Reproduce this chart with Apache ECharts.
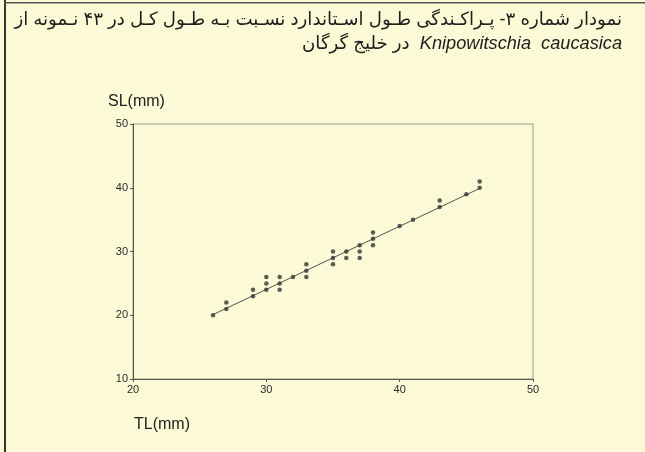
<!DOCTYPE html>
<html>
<head>
<meta charset="utf-8">
<script src="https://cdn.jsdelivr.net/npm/echarts@6/dist/echarts.min.js"></script>
<style>
  html, body { margin: 0; padding: 0; background: #fcf9d6; }
  #chart { width: 645px; height: 452px; }
</style>
</head>
<body>
<div id="chart"></div>
<script>
// TL (mm) of each visible point
const tl = [26, 27, 27, 29, 29, 30, 30, 30, 31, 31, 31, 32, 33, 33, 33, 35, 35, 35,
  36, 36, 37, 37, 37, 38, 38, 38, 40, 41, 43, 43, 45, 46, 46];
// SL (mm) of each visible point
const sl = [20, 21, 22, 23, 24, 24, 25, 26, 24, 25, 26, 26, 26, 27, 28, 28, 29, 30,
  29, 30, 29, 30, 31, 31, 32, 33, 34, 35, 37, 38, 39, 40, 41];
// fitted line, ends
const fitLine = [[26, 20.1], [46, 39.9]];

const titleLine1 = 'نمودار شماره ۳- پـراکـندگی طـول اسـتاندارد نسـبت بـه طـول کـل در ۴۳ نـمونه از';
const titleLatin = 'Knipowitschia  caucasica';
const titlePersian = 'در خلیج گرگان';

const font = '"Liberation Sans", "DejaVu Sans", sans-serif';
const chart = echarts.init(document.getElementById('chart'));

chart.setOption({
  backgroundColor: '#fcf9d6',
  animation: false,
  grid: {
    left: 133, right: 112, top: 124, bottom: 73,
    show: true, borderColor: '#9a9a8a', borderWidth: 1
  },
  xAxis: {
    type: 'value', min: 20, max: 50, interval: 10,
    axisLine: {show: true, lineStyle: {color: '#555', width: 1}},
    axisTick: {show: true, length: 3, lineStyle: {color: '#555'}},
    axisLabel: {color: '#2a2a2a', fontSize: 11, fontFamily: font, margin: 5},
    splitLine: {show: false}
  },
  yAxis: {
    type: 'value', min: 10, max: 50, interval: 10,
    axisLine: {show: true, lineStyle: {color: '#555', width: 1}},
    axisTick: {show: true, length: 3, lineStyle: {color: '#555'}},
    axisLabel: {color: '#2a2a2a', fontSize: 11, fontFamily: font, margin: 5},
    splitLine: {show: false}
  },
  graphic: [
    {type: 'rect', shape: {x: 4, y: 0, width: 2, height: 452}, style: {fill: '#333'}},
    {type: 'rect', shape: {x: 4, y: 2, width: 641, height: 1.5}, style: {fill: '#555'}},
    {
      type: 'text', right: 23, top: 11,
      style: {text: '\u202B' + titleLine1 + '\u202C', font: '18.2px ' + font, fill: '#1e1e1e'}
    },
    {
      type: 'text', right: 23, top: 35,
      style: {
        text: '{p|' + titlePersian + '}  {l|' + titleLatin + '}',
        rich: {
          p: {font: '18.2px ' + font, fill: '#1e1e1e'},
          l: {font: 'italic 18.2px ' + font, fill: '#1e1e1e'}
        },
        font: '18.2px ' + font, fill: '#1e1e1e'
      }
    },
    {type: 'text', left: 108, top: 94, style: {text: 'SL(mm)', font: '16px ' + font, fill: '#222'}},
    {type: 'text', left: 134, top: 417, style: {text: 'TL(mm)', font: '16px ' + font, fill: '#222'}}
  ],
  series: [
    {
      type: 'line',
      data: fitLine,
      showSymbol: false,
      lineStyle: {color: '#555', width: 1},
      z: 2
    },
    {
      type: 'scatter',
      data: tl.map((x, i) => [x, sl[i]]),
      symbolSize: 4.5,
      itemStyle: {color: '#333'},
      z: 3
    }
  ]
});
</script>
</body>
</html>
